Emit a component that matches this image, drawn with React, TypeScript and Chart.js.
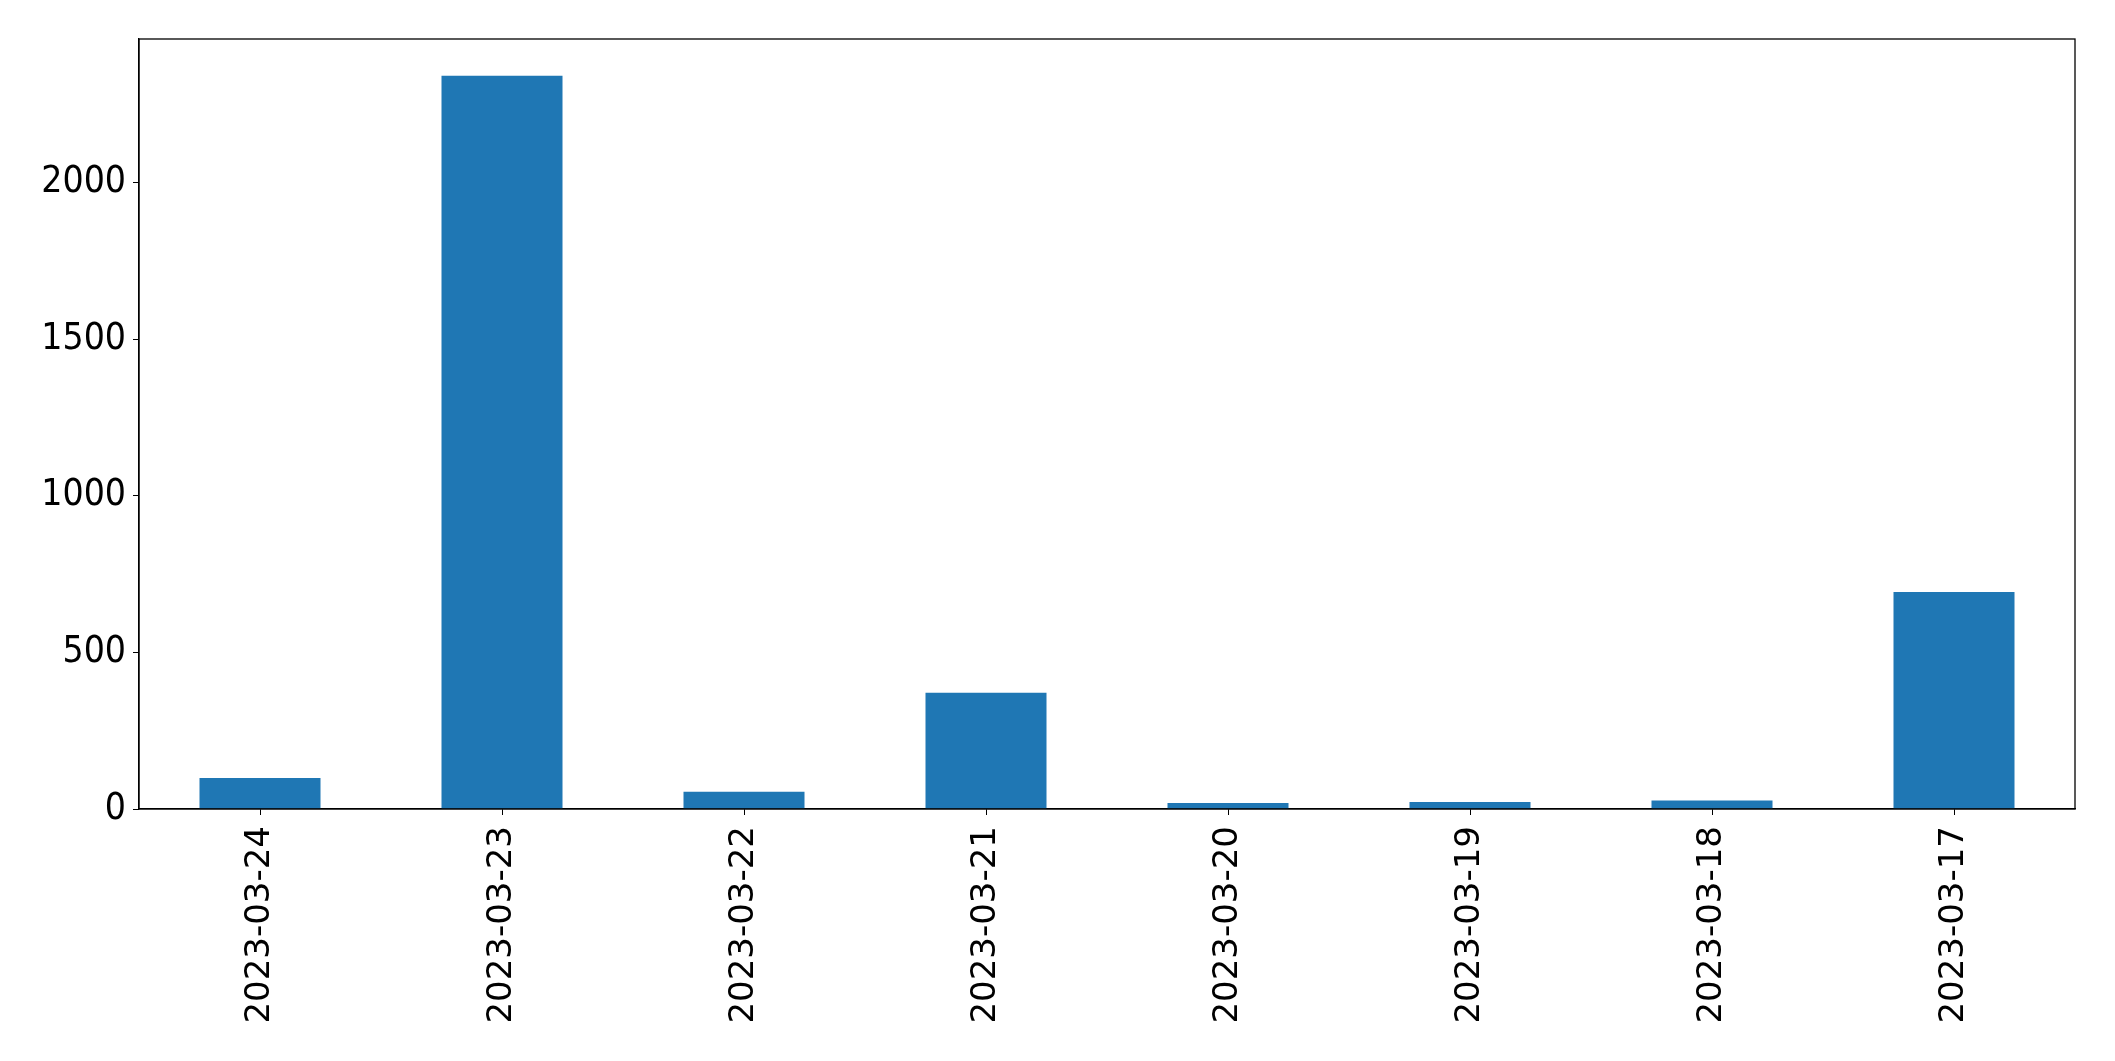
import React, { useEffect, useRef } from "react";
import { Chart, registerables } from "chart.js";

Chart.register(...registerables);

const categories = [
  "2023-03-24",
  "2023-03-23",
  "2023-03-22",
  "2023-03-21",
  "2023-03-20",
  "2023-03-19",
  "2023-03-18",
  "2023-03-17",
];
const values = [99, 2341, 55, 371, 19, 22, 27, 693];
const yTicks = [0, 500, 1000, 1500, 2000];
const yMax = 2458;

const frame = {
  id: "frame",
  afterDraw(chart: any) {
    const { ctx, chartArea } = chart;
    ctx.save();
    ctx.strokeStyle = "#000";
    ctx.lineWidth = 1.3;
    ctx.strokeRect(chartArea.left, chartArea.top, chartArea.right - chartArea.left, chartArea.bottom - chartArea.top);
    ctx.restore();
  },
};

export default function App() {
  const ref = useRef<HTMLCanvasElement | null>(null);
  useEffect(() => {
    if (!ref.current) return;
    const chart = new Chart(ref.current, {
      type: "bar",
      data: {
        labels: categories,
        datasets: [
          {
            data: values,
            backgroundColor: "#1f77b4",
            categoryPercentage: 1,
            barPercentage: 0.5,
          },
        ],
      },
      options: {
        responsive: false,
        animation: false,
        layout: { padding: { left: 0, right: 40, top: 39, bottom: 0 } },
        plugins: { legend: { display: false }, tooltip: { enabled: false } },
        scales: {
          x: {
            offset: true,
            grid: { display: true, drawOnChartArea: false, drawTicks: true, tickLength: 6, color: "#000", offset: false },
            border: { display: true, color: "#000", width: 1.3 },
            ticks: {
              color: "#000",
              font: { family: "DejaVu Sans", size: 34 },
              minRotation: 90,
              maxRotation: 90,
              autoSkip: false,
              padding: 11,
            },
            afterFit: (scale: any) => {
              scale.height = 252;
            },
          },
          y: {
            min: 0,
            max: yMax,
            grid: { display: true, drawOnChartArea: false, drawTicks: true, tickLength: 6, color: "#000" },
            border: { display: true, color: "#000", width: 1.3 },
            ticks: {
              color: "#000",
              font: { family: "'DejaVu Sans Condensed', 'DejaVu Sans'", size: 37 },
              padding: 7,
              autoSkip: false,
              callback: (v: any) => String(v),
            },
            afterBuildTicks: (scale: any) => {
              scale.ticks = yTicks.map((v) => ({ value: v }));
            },
            afterFit: (scale: any) => {
              scale.width = 139;
            },
          },
        },
      },
      plugins: [frame],
    });
    return () => chart.destroy();
  }, []);
  return (
    <div style={{ position: "absolute", left: 0, top: 0, width: 2115, height: 1061, background: "#fff" }}>
      <canvas ref={ref} width={2115} height={1061} style={{ width: 2115, height: 1061 }} />
    </div>
  );
}
